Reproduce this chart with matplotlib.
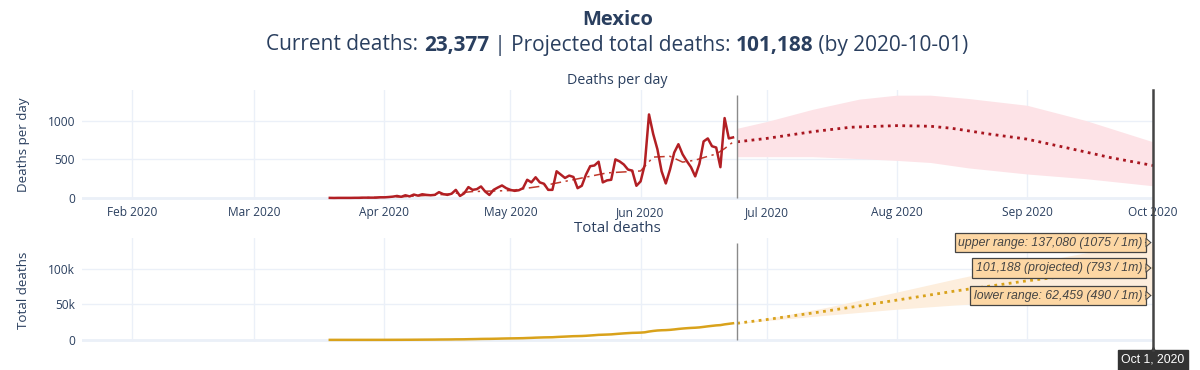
import numpy as np
import pandas as pd
import matplotlib
matplotlib.use("Agg")
import matplotlib.pyplot as plt
import matplotlib.dates as mdates
from matplotlib.ticker import FuncFormatter

plt.rcParams['font.family'] = ['Open Sans', 'DejaVu Sans']

# observed deaths per day, 2020-03-19 .. 2020-06-23
daily_start = "2020-03-19"
daily_mar = [1, 0, 1, 1, 1, 1, 2, 2, 4, 4, 4, 4, 8]
daily_apr = [8, 12, 17, 26, 15, 35, 20, 44, 30, 48, 40, 35, 40, 75, 50,
             40, 55, 105, 26, 60, 141, 105, 114, 149, 83, 39, 105, 135, 162, 127]
daily_may = [105, 92, 100, 127, 236, 202, 268, 202, 184, 105, 105, 346, 303, 259, 290,
             272, 127, 158, 303, 412, 421, 470, 202, 228, 236, 500, 474, 434, 368, 355, 158]
daily_jun = [215, 434, 1083, 829, 632, 346, 188, 368, 588, 697, 566, 478, 399, 280, 443,
             733, 772, 671, 654, 399, 1036, 772, 785]

# smoothed trend (dash-dot)
trend_dates = ["2020-03-19", "2020-03-25", "2020-04-05", "2020-04-15", "2020-04-22", "2020-05-01",
               "2020-05-08", "2020-05-16", "2020-05-24", "2020-06-01", "2020-06-04", "2020-06-08",
               "2020-06-11", "2020-06-14", "2020-06-17", "2020-06-19", "2020-06-21", "2020-06-23"]
trend_vals = [0, 2, 15, 45, 83, 96, 150, 237, 325, 350, 530, 540, 465, 490, 540, 570, 640, 725]

# projection of deaths per day
proj_dates = ["2020-06-24", "2020-07-01", "2020-07-12", "2020-07-21", "2020-08-01", "2020-08-09",
              "2020-08-14", "2020-08-23", "2020-09-01", "2020-09-12", "2020-09-21", "2020-10-01"]
proj_vals = [728, 772, 860, 917, 938, 930, 904, 829, 763, 632, 522, 421]
band_dates = ["2020-06-24", "2020-07-01", "2020-07-12", "2020-07-23", "2020-08-01", "2020-08-09",
              "2020-08-18", "2020-09-01", "2020-09-15", "2020-10-01"]
band_upper = [904, 991, 1150, 1281, 1333, 1333, 1290, 1202, 1004, 728]
band_lower = [535, 535, 535, 510, 487, 460, 390, 311, 250, 158]

# projection of total deaths
tot_dates = ["2020-06-24", "2020-07-01", "2020-07-15", "2020-08-01", "2020-08-15",
             "2020-09-01", "2020-09-15", "2020-10-01"]
tot_proj = [23377, 28600, 40400, 56000, 68900, 83200, 93000, 101188]
tot_upper = [23377, 30000, 45400, 67300, 85900, 107200, 122600, 137080]
tot_lower = [23377, 27100, 34600, 43200, 49200, 55000, 58800, 62459]
per_million = [1075, 793, 490]

country = "Mexico"
current_deaths = 23377
today = "2020-06-24"
end_date = "2020-10-01"
x_start = "2020-01-20"

TXT = '#2a3f5f'
GRID = '#ebf0f8'
W, H = 1200, 370

daily = np.array(daily_mar + daily_apr + daily_may + daily_jun)
dates = pd.date_range(daily_start, periods=len(daily), freq="D")
total = np.cumsum(daily)
today_d = pd.Timestamp(today)
end_d = pd.Timestamp(end_date)


def box(x0, y0, x1, y1):
    return [x0 / W, 1 - y1 / H, (x1 - x0) / W, (y1 - y0) / H]


fig = plt.figure(figsize=(W / 100, H / 100), dpi=100)
ax1 = fig.add_axes(box(82, 90, 1153, 199.5))
ax2 = fig.add_axes(box(82, 238, 1153, 342))

for ax in (ax1, ax2):
    for s in ax.spines.values():
        s.set_visible(False)
    ax.set_xlim(pd.Timestamp(x_start), end_d)
    ax.xaxis.set_major_locator(mdates.MonthLocator())
    ax.grid(True, color=GRID, lw=1)
    ax.axhline(0, color=GRID, lw=2, zorder=1)
    ax.tick_params(length=0, colors=TXT, labelsize=8.6, pad=5)
    ax.set_axisbelow(True)

# --- deaths per day
ax1.fill_between(pd.to_datetime(band_dates), band_lower, band_upper, color='#fde3e7', lw=0, zorder=2)
ax1.plot(dates, daily, color='#b21f24', lw=1.8, zorder=4)
ax1.plot(pd.to_datetime(trend_dates), trend_vals, color='#c0392b', lw=1.1,
         ls=(0, (7, 3, 1.5, 3)), zorder=3)
ax1.plot(pd.to_datetime(proj_dates), proj_vals, color='#a8151f', lw=2.0, ls=(0, (1, 1.6)), zorder=3)
ax1.vlines(today_d, 0, max(band_upper), color='#8a8a8a', lw=1, zorder=5)
ax1.set_ylim(-20, 1400)
ax1.set_yticks([0, 500, 1000])
ax1.xaxis.set_major_formatter(mdates.DateFormatter('%b %Y'))
ax1.set_ylabel("Deaths per day", color=TXT, fontsize=9.6)
ax1.yaxis.set_label_coords(-0.049, 0.5)

# --- total deaths
ax2.fill_between(pd.to_datetime(tot_dates), tot_lower, tot_upper, color='#fdeedd', lw=0, zorder=2)
ax2.plot(dates, total, color='#d9a21b', lw=1.8, zorder=4)
ax2.plot(pd.to_datetime(tot_dates), tot_proj, color='#d9a21b', lw=2.0, ls=(0, (1, 1.6)), zorder=3)
ax2.vlines(today_d, 0, max(tot_upper), color='#8a8a8a', lw=1, zorder=5)
ax2.set_ylim(-3000, 143500)
ax2.set_yticks([0, 50000, 100000])
ax2.yaxis.set_major_formatter(FuncFormatter(lambda v, p: "0" if v == 0 else f"{int(v / 1000)}k"))
ax2.set_xticklabels([])
ax2.set_ylabel("Total deaths", color=TXT, fontsize=9.6)
ax2.yaxis.set_label_coords(-0.049, 0.5)

# hover labels on the right
labels = [f"upper range: {tot_upper[-1]:,} ({per_million[0]} / 1m)",
          f"{tot_proj[-1]:,} (projected) ({per_million[1]} / 1m)",
          f"lower range: {tot_lower[-1]:,} ({per_million[2]} / 1m)"]
for lab, val in zip(labels, [tot_upper[-1], tot_proj[-1], tot_lower[-1]]):
    ax2.annotate(lab, xy=(end_d, val), xytext=(-7.5, 0), textcoords='offset points',
                 ha='right', va='center', fontsize=8.8, style='italic', color='#444444',
                 family=['Liberation Sans', 'DejaVu Sans'],
                 bbox=dict(boxstyle='square,pad=0.3', fc='#fdd7a4', ec='#444444', lw=0.9),
                 zorder=8, annotation_clip=False)
    ax2.annotate("", xy=(end_d, val), xytext=(-5.5, 0), textcoords='offset points',
                 annotation_clip=False, zorder=9,
                 arrowprops=dict(arrowstyle='-|>,head_length=0.35,head_width=0.3',
                                 fc='#fdd7a4', ec='#444444', lw=0.7, shrinkA=0, shrinkB=1))

# spike line at the end date across both panels
fig.canvas.draw()
inv = fig.transFigure.inverted()
xf = inv.transform(ax1.transData.transform((mdates.date2num(end_d), 0)))[0]
fig.add_artist(plt.Line2D([xf, xf], [1 - 90 / H, 1 - 350 / H], color='#444444', lw=1.8,
                          transform=fig.transFigure, zorder=10))
fig.text(xf, 1 - 360 / H, end_d.strftime("%b %-d, %Y"), ha='center', va='center', color='white',
         fontsize=8.8, family=['Liberation Sans', 'DejaVu Sans'],
         bbox=dict(boxstyle='square,pad=0.3', fc='#333333', ec='#333333'))
fig.add_artist(plt.Line2D([xf], [1 - 350 / H], marker='^', ms=5, color='#333333',
                          transform=fig.transFigure))

# titles
xc = (82 + 1153) / 2 / W
fig.text(xc, 1 - 20 / H, country, ha='center', va='center', fontsize=14.5, weight='bold', color=TXT)
parts = [("Current deaths: ", 'normal'), (f"{current_deaths:,}", 'bold'), (" | Projected total deaths: ", 'normal'),
         (f"{tot_proj[-1]:,}", 'bold'), (f" (by {end_date})", 'normal')]
renderer = fig.canvas.get_renderer()
objs = [fig.text(0, 1 - 45 / H, t, ha='left', va='center', fontsize=15, weight=w, color=TXT) for t, w in parts]
widths = [o.get_window_extent(renderer).width / W for o in objs]
x = xc - sum(widths) / 2
for o, w in zip(objs, widths):
    o.set_x(x)
    x += w
fig.text(xc, 1 - 80 / H, "Deaths per day", ha='center', va='center', fontsize=10.3, color=TXT)
fig.text(xc, 1 - 228 / H, "Total deaths", ha='center', va='center', fontsize=10.8, color=TXT)

fig.savefig("out.png", dpi=100)
